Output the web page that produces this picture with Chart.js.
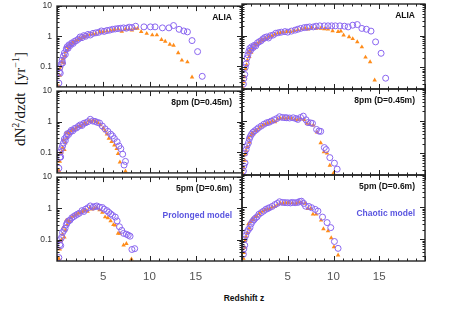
<!DOCTYPE html>
<html>
<head>
<meta charset="utf-8">
<script src="https://cdn.jsdelivr.net/npm/chart.js@4"></script>
<style>
  body { margin: 0; background: #fff; width: 455px; height: 317px; position: relative; overflow: hidden; }
  .panel { position: absolute; }
  #ytitle { position: absolute; left: 19px; top: 99px; transform: translate(-50%, -50%) rotate(-90deg);
    font-family: "Liberation Serif", serif; font-size: 15px; white-space: nowrap; color: #111; }
  #ytitle sup { font-size: 10px; }
  #xtitle { position: absolute; left: 244px; top: 298px; transform: translate(-50%, -50%);
    font-family: "Liberation Sans", Arial, sans-serif; font-weight: bold; font-size: 8.5px; color: #111; }
</style>
</head>
<body>
<div id="ytitle">dN<sup>2</sup>/dzdt&nbsp; [yr<sup>&minus;1</sup>]</div>
<div id="xtitle">Redshift z</div>
<script>
// row labels and model labels
const rowLabels = ['ALIA', '8pm (D=0.45m)', '5pm (D=0.6m)'];
const modelLabels = ['Prolonged model', 'Chaotic model'];
const xTicks = [5, 10, 15];
const yTicks = [0.1, 1, 10];

// [redshift, rate]: circles / triangles per panel
const aliaProlongedCirc = [[0.2,0.028],[0.25,0.065],[0.3,0.09],[0.35,0.06],[0.45,0.12],[0.55,0.16],[0.6,0.13],[0.7,0.22],[0.8,0.28],[0.9,0.25],[1.0,0.38],[1.1,0.45],[1.2,0.4],[1.3,0.52],[1.45,0.5],[1.6,0.6],[1.75,0.58],[1.9,0.68],[2.1,0.72],[2.3,0.8],[2.5,0.95],[2.7,0.9],[2.9,1.05],[3.1,1.0],[3.35,1.15],[3.6,1.1],[3.9,1.25],[4.2,1.3],[4.5,1.35],[4.8,1.5],[5.1,1.45],[5.4,1.55],[5.7,1.6],[6.0,1.7],[6.3,1.75],[6.6,1.8],[6.9,1.85],[7.2,1.9],[7.5,1.85],[7.8,2.0],[8.1,1.95],[8.5,2.15],[9.4,2.05],[10.1,2.05],[10.6,2.05],[11.4,1.9],[12.1,1.9],[12.6,2.27],[13.2,1.7],[13.7,1.5],[14.1,1.4],[14.6,0.72],[15.2,0.31],[15.7,0.047]];
const aliaProlongedTri = [[0.2,0.022],[0.3,0.05],[0.35,0.08],[0.45,0.1],[0.55,0.14],[0.65,0.18],[0.75,0.13],[0.85,0.22],[0.95,0.3],[1.05,0.45],[1.15,0.36],[1.3,0.42],[1.4,0.55],[1.55,0.52],[1.7,0.62],[1.85,0.6],[2.0,0.7],[2.2,0.75],[2.4,0.85],[2.6,0.8],[2.8,1.0],[3.0,0.95],[3.3,1.1],[3.6,1.15],[3.9,1.2],[4.2,1.25],[4.6,1.4],[5.0,1.4],[5.4,1.5],[5.8,1.55],[6.2,1.65],[6.6,1.75],[7.0,1.45],[7.4,1.7],[7.8,1.75],[8.1,1.6],[8.4,1.8],[8.7,1.8],[9.1,1.42],[9.7,1.23],[10.3,1.1],[10.8,1.1],[11.3,0.77],[11.7,0.68],[12.2,0.54],[12.6,0.5],[13.1,0.28],[13.5,0.16],[14.1,0.14],[14.6,0.044]];

const aliaChaoticCirc = [[0.15,0.03],[0.2,0.045],[0.3,0.06],[0.35,0.1],[0.45,0.13],[0.55,0.2],[0.65,0.25],[0.75,0.32],[0.85,0.4],[0.95,0.35],[1.05,0.45],[1.2,0.42],[1.35,0.5],[1.5,0.48],[1.7,0.6],[1.9,0.65],[2.1,0.7],[2.3,0.8],[2.5,0.88],[2.7,0.92],[2.9,0.85],[3.1,1.0],[3.4,1.05],[3.7,1.2],[4.0,1.25],[4.3,1.3],[4.7,1.35],[5.0,1.3],[5.4,1.4],[5.8,1.5],[6.1,1.6],[6.4,1.7],[6.8,1.8],[7.1,1.85],[7.4,1.9],[7.8,1.9],[8.1,2.0],[8.5,2.05],[9.0,2.05],[9.4,2.05],[9.8,2.05],[10.2,2.05],[10.7,2.05],[11.2,2.0],[11.6,1.9],[12.1,2.15],[12.6,2.25],[13.1,1.7],[13.6,1.6],[14.1,1.4],[14.6,0.64],[15.2,0.28],[15.7,0.046]];
const aliaChaoticTri = [[0.15,0.022],[0.2,0.035],[0.3,0.05],[0.4,0.09],[0.5,0.12],[0.6,0.17],[0.7,0.3],[0.8,0.22],[0.9,0.35],[1.0,0.3],[1.1,0.42],[1.25,0.4],[1.4,0.55],[1.55,0.5],[1.75,0.58],[1.95,0.65],[2.15,0.75],[2.35,0.72],[2.55,0.85],[2.75,0.8],[3.0,0.95],[3.3,1.0],[3.6,1.1],[3.9,1.2],[4.2,1.25],[4.5,1.3],[4.9,1.35],[5.3,1.35],[5.7,1.45],[6.1,1.55],[6.5,1.65],[6.9,1.7],[7.2,1.6],[7.6,1.75],[8.1,1.7],[8.6,1.7],[9.0,1.65],[9.4,1.6],[9.9,1.42],[10.5,1.35],[10.8,1.4],[11.1,1.04],[11.7,0.92],[12.1,0.8],[12.6,0.64],[13.1,0.44],[13.5,0.21],[14.0,0.15],[14.5,0.04]];

const pm8ProlongedCirc = [[0.2,0.03],[0.3,0.068],[0.33,0.1],[0.4,0.07],[0.5,0.13],[0.6,0.16],[0.7,0.2],[0.8,0.27],[0.9,0.24],[1.0,0.32],[1.1,0.4],[1.25,0.38],[1.4,0.45],[1.55,0.52],[1.7,0.5],[1.9,0.6],[2.1,0.62],[2.3,0.7],[2.5,0.78],[2.7,0.75],[2.9,0.88],[3.1,0.92],[3.35,1.0],[3.6,1.19],[3.85,1.05],[4.1,1.02],[4.35,0.95],[4.6,0.9],[4.9,0.72],[5.2,0.58],[5.5,0.48],[5.8,0.39],[6.0,0.34],[6.2,0.28],[6.5,0.22],[6.7,0.16],[6.9,0.13],[7.1,0.086],[7.25,0.038],[7.4,0.05]];
const pm8ProlongedTri = [[0.2,0.025],[0.3,0.05],[0.4,0.09],[0.5,0.1],[0.6,0.14],[0.7,0.25],[0.8,0.12],[0.9,0.2],[1.0,0.42],[1.1,0.3],[1.2,0.45],[1.35,0.4],[1.5,0.5],[1.65,0.55],[1.85,0.52],[2.0,0.6],[2.2,0.68],[2.4,0.72],[2.6,0.7],[2.8,0.82],[3.0,0.9],[3.2,0.85],[3.45,1.05],[3.7,1.0],[3.95,1.1],[4.2,1.0],[4.45,0.9],[4.7,0.78],[5.0,0.6],[5.2,0.5],[5.4,0.39],[5.6,0.28],[5.9,0.22],[6.2,0.17],[6.45,0.13],[6.6,0.09],[6.8,0.047],[7.4,0.024]];

const pm8ChaoticCirc = [[0.15,0.028],[0.2,0.04],[0.33,0.05],[0.3,0.1],[0.45,0.13],[0.55,0.17],[0.7,0.21],[0.8,0.28],[0.9,0.33],[1.05,0.39],[1.2,0.45],[1.4,0.5],[1.6,0.55],[1.8,0.62],[2.1,0.7],[2.4,0.8],[2.7,0.89],[2.95,0.92],[3.2,1.0],[3.5,1.1],[3.8,1.2],[4.1,1.37],[4.4,1.3],[4.7,1.28],[4.9,1.27],[5.2,1.25],[5.6,1.27],[5.9,1.2],[6.1,1.13],[6.4,1.3],[6.7,1.43],[7.0,1.1],[7.2,0.9],[7.5,0.88],[7.7,0.85],[8.15,0.55],[8.4,0.49],[8.6,0.48],[9.0,0.15],[9.2,0.13],[9.6,0.073],[10.1,0.049],[10.4,0.032]];
const pm8ChaoticTri = [[0.15,0.022],[0.2,0.035],[0.3,0.06],[0.35,0.09],[0.45,0.12],[0.6,0.16],[0.7,0.3],[0.8,0.22],[0.95,0.35],[1.1,0.42],[1.25,0.4],[1.45,0.5],[1.65,0.52],[1.85,0.6],[2.05,0.68],[2.3,0.75],[2.55,0.8],[2.8,0.85],[3.05,0.9],[3.3,1.0],[3.6,0.95],[3.9,1.15],[4.2,1.2],[4.5,1.25],[4.8,1.2],[5.1,1.25],[5.4,1.2],[5.8,1.15],[6.1,1.1],[6.4,1.2],[6.8,1.1],[7.1,0.85],[7.4,0.8],[7.8,0.75],[8.2,0.45],[8.6,0.21],[8.95,0.11],[9.3,0.1],[9.6,0.042],[10.0,0.024]];

const pm5ProlongedCirc = [[0.2,0.027],[0.3,0.07],[0.33,0.1],[0.4,0.065],[0.5,0.12],[0.6,0.17],[0.75,0.2],[0.87,0.23],[1.0,0.3],[1.1,0.35],[1.25,0.4],[1.4,0.42],[1.6,0.5],[1.8,0.55],[2.0,0.6],[2.2,0.65],[2.4,0.7],[2.7,0.85],[2.9,0.8],[3.1,0.95],[3.35,1.05],[3.6,1.2],[3.9,1.1],[4.1,1.15],[4.3,1.2],[4.6,1.1],[4.9,1.07],[5.1,0.95],[5.4,0.85],[5.6,0.75],[5.8,0.67],[6.0,0.6],[6.3,0.53],[6.5,0.4],[6.75,0.26],[7.0,0.2],[7.2,0.16],[7.5,0.15],[7.7,0.14],[7.9,0.13],[8.1,0.049],[8.4,0.052]];
const pm5ProlongedTri = [[0.2,0.025],[0.3,0.05],[0.4,0.09],[0.5,0.1],[0.6,0.15],[0.7,0.25],[0.8,0.12],[0.9,0.2],[1.0,0.42],[1.1,0.3],[1.2,0.4],[1.35,0.38],[1.5,0.5],[1.7,0.55],[1.9,0.6],[2.1,0.65],[2.3,0.7],[2.5,0.72],[2.7,0.78],[2.9,0.85],[3.1,0.9],[3.3,0.8],[3.55,1.05],[3.8,0.95],[4.05,1.0],[4.3,1.05],[4.6,0.9],[4.9,0.75],[5.2,0.53],[5.5,0.5],[5.8,0.4],[6.1,0.3],[6.3,0.29],[6.6,0.16],[6.8,0.16],[7.2,0.067],[7.5,0.075],[8.05,0.024]];

const pm5ChaoticCirc = [[0.15,0.034],[0.2,0.05],[0.3,0.065],[0.25,0.1],[0.4,0.13],[0.55,0.17],[0.7,0.2],[0.87,0.23],[1.0,0.3],[1.15,0.36],[1.3,0.4],[1.45,0.45],[1.65,0.5],[1.85,0.6],[2.1,0.67],[2.35,0.75],[2.6,0.85],[2.8,0.9],[3.0,0.96],[3.3,1.05],[3.6,1.2],[3.85,1.3],[4.1,1.47],[4.4,1.4],[4.7,1.38],[5.0,1.37],[5.3,1.35],[5.5,1.4],[5.8,1.37],[6.1,1.4],[6.3,1.5],[6.5,1.53],[6.75,1.3],[6.95,1.07],[7.3,1.05],[7.6,0.96],[8.0,0.85],[8.3,0.75],[8.8,0.49],[9.3,0.33],[9.7,0.23],[10.1,0.085],[10.5,0.052]];
const pm5ChaoticTri = [[0.15,0.025],[0.2,0.038],[0.3,0.055],[0.35,0.09],[0.45,0.12],[0.6,0.16],[0.7,0.3],[0.8,0.22],[0.95,0.35],[1.1,0.42],[1.25,0.4],[1.45,0.5],[1.65,0.52],[1.85,0.62],[2.05,0.7],[2.3,0.75],[2.55,0.82],[2.8,0.85],[3.05,0.9],[3.3,1.0],[3.6,1.05],[3.9,1.2],[4.2,1.3],[4.5,1.3],[4.8,1.35],[5.1,1.35],[5.5,1.35],[5.9,1.3],[6.2,1.4],[6.5,1.35],[6.9,1.3],[7.2,0.9],[7.5,0.9],[7.75,0.6],[8.1,0.6],[8.65,0.39],[8.9,0.21],[9.4,0.18],[9.75,0.11],[10.05,0.058],[10.5,0.032]];

const panels = [
  [aliaProlongedCirc, aliaProlongedTri], [aliaChaoticCirc, aliaChaoticTri],
  [pm8ProlongedCirc, pm8ProlongedTri], [pm8ChaoticCirc, pm8ChaoticTri],
  [pm5ProlongedCirc, pm5ProlongedTri], [pm5ChaoticCirc, pm5ChaoticTri]
];

// layout of the grid
const colL = [57, 242], colW = [185, 183];
const rowT = [4, 89, 175], rowH = [85, 86, 86];
const M = 8, LW = 34, BH = 30;

const framePlugin = {
  id: 'frame',
  afterDraw(chart, args, opts) {
    const { ctx, chartArea: a, scales: { x, y } } = chart;
    ctx.save();
    ctx.strokeStyle = '#222';
    ctx.lineWidth = 1;
    ctx.beginPath();
    for (let v = 0; v <= 20; v++) {
      const px = Math.round(x.getPixelForValue(v)) + 0.5, len = v % 5 ? 2.5 : 5;
      ctx.moveTo(px, a.bottom); ctx.lineTo(px, a.bottom - len);
      ctx.moveTo(px, a.top); ctx.lineTo(px, a.top + len);
    }
    for (let e = -2; e <= 1; e++) {
      for (let m = 1; m < 10; m++) {
        const v = m * Math.pow(10, e);
        if (v < y.min || v > y.max) continue;
        const py = Math.round(y.getPixelForValue(v)) + 0.5, len = m === 1 ? 5 : 2.5;
        ctx.moveTo(a.left, py); ctx.lineTo(a.left + len, py);
        ctx.moveTo(a.right, py); ctx.lineTo(a.right - len, py);
      }
    }
    ctx.stroke();
    ctx.lineWidth = 1.4;
    ctx.strokeRect(a.left, a.top, a.right - a.left, a.bottom - a.top);
    ctx.textAlign = 'right';
    ctx.textBaseline = 'middle';
    ctx.font = 'bold 8.5px "Liberation Sans", Arial, sans-serif';
    (opts.labels || []).forEach(l => {
      ctx.fillStyle = l.color;
      ctx.fillText(l.text, a.right - 10, a.top + l.dy);
    });
    ctx.restore();
  }
};

panels.forEach(([circ, tri], i) => {
  const r = Math.floor(i / 2), c = i % 2;
  const leftW = c === 0 ? LW : 0, bottomH = r === 2 ? BH : 0;
  const div = document.createElement('div');
  div.className = 'panel';
  const w = M + leftW + colW[c] + M, h = M + rowH[r] + bottomH + M;
  div.style.left = (colL[c] - leftW - M) + 'px';
  div.style.top = (rowT[r] - M) + 'px';
  div.style.width = w + 'px';
  div.style.height = h + 'px';
  const cv = document.createElement('canvas');
  div.appendChild(cv);
  document.body.appendChild(div);

  const labels = [{ text: rowLabels[r], color: '#111', dy: 12 }];
  if (r === 2) labels.push({ text: modelLabels[c], color: '#5a55e0', dy: 39 });

  new Chart(cv, {
    type: 'scatter',
    data: {
      datasets: [
        { data: circ.map(([x, y]) => ({ x, y })), pointStyle: 'circle', pointRadius: 3,
          borderColor: '#8a66f0', backgroundColor: 'rgba(0,0,0,0)', borderWidth: 1 },
        { data: tri.map(([x, y]) => ({ x, y })), pointStyle: 'triangle', pointRadius: 2.6,
          borderColor: '#ff8c1a', backgroundColor: '#ff8c1a', borderWidth: 0 }
      ]
    },
    options: {
      responsive: true,
      maintainAspectRatio: false,
      animation: false,
      events: [],
      layout: { padding: M },
      plugins: { legend: { display: false }, tooltip: { enabled: false }, frame: { labels } },
      scales: {
        x: {
          type: 'linear', min: 0, max: 20,
          grid: { display: false, drawTicks: false },
          border: { display: false },
          afterBuildTicks: s => { s.ticks = xTicks.map(v => ({ value: v })); },
          afterFit: s => { s.height = bottomH; },
          ticks: { display: r === 2, padding: 9, color: '#555',
            font: { family: '"Liberation Sans", Arial, sans-serif', size: 11.5 } }
        },
        y: {
          type: 'logarithmic', min: 0.021, max: 10,
          grid: { display: false, drawTicks: false },
          border: { display: false },
          afterBuildTicks: s => { s.ticks = yTicks.map(v => ({ value: v })); },
          afterFit: s => { s.width = leftW; },
          ticks: { display: c === 0, padding: 5, color: '#333',
            callback: v => String(v),
            font: { family: '"Liberation Sans", Arial, sans-serif', size: 8.5 } }
        }
      }
    },
    plugins: [framePlugin]
  });
});
</script>
</body>
</html>
